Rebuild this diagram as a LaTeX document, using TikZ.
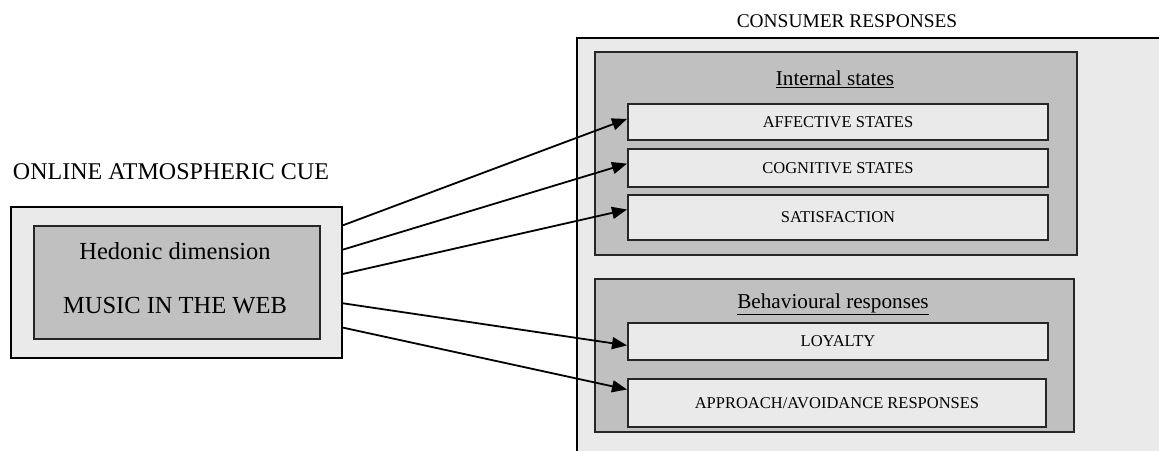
\documentclass[tikz,border=0pt]{standalone}
\usepackage{fontspec}
\setmainfont{Liberation Serif}
\usetikzlibrary{arrows.meta,calc}
\definecolor{lightbg}{RGB}{234,234,234}
\definecolor{darkbg}{RGB}{192,192,192}
\begin{document}
\begin{tikzpicture}[x=1pt,y=-1pt,
  lightbox/.style={draw=black,fill=lightbg,line width=2pt,inner sep=0pt,anchor=north west},
  darkbox/.style={draw=black!85,fill=darkbg,line width=2pt,inner sep=0pt,anchor=north west},
  itembox/.style={draw=black!85,fill=lightbg,line width=2pt,inner sep=0pt,anchor=north west,font=\fontsize{16.5}{18}\selectfont},
  conn/.style={line width=1.8pt,-{Triangle[length=15pt,width=12pt]}},
  lbl/.style={inner sep=0pt,anchor=center}]
\useasboundingbox (0,0) rectangle (1159,450);
\clip (0,0) rectangle (1159,450);
\fill[white] (0,0) rectangle (1159,450);
% left side
\node[lbl,font=\fontsize{24}{26}\selectfont] (cuetitle) at (171,172) {ONLINE ATMOSPHERIC CUE};
\node[lightbox,minimum width=331pt,minimum height=151pt] (cue) at (10,206) {};
\node[darkbox,minimum width=286pt,minimum height=113pt] (hed) at (33,225) {};
\node[lbl,font=\fontsize{24.5}{26}\selectfont] (hedt) at (175,251) {Hedonic dimension};
\node[lbl,font=\fontsize{24.5}{26}\selectfont] (music) at (175,306) {MUSIC IN THE WEB};
% right side
\node[lbl,font=\fontsize{19.4}{21}\selectfont] (crtitle) at (847,21) {CONSUMER RESPONSES};
\node[lightbox,minimum width=620pt,minimum height=440pt] (cr) at (576,37) {};
\node[darkbox,minimum width=482pt,minimum height=203pt] (internal) at (594,51) {};
\node[lbl,font=\fontsize{21.2}{23}\selectfont] (intt) at (835,79) {\underline{Internal states}};
\node[itembox,minimum width=420pt,minimum height=36pt] (aff) at (627,103) {};
\node[lbl,font=\fontsize{16.5}{18}\selectfont] at (aff.center) {AFFECTIVE STATES};
\node[itembox,minimum width=420pt,minimum height=38pt] (cog) at (627,148) {};
\node[lbl,font=\fontsize{16.5}{18}\selectfont] at (cog.center) {COGNITIVE STATES};
\node[itembox,minimum width=420pt,minimum height=45pt] (sat) at (627,194) {};
\node[lbl,font=\fontsize{16.5}{18}\selectfont] at (sat.center) {SATISFACTION};
\node[darkbox,minimum width=479pt,minimum height=153pt] (behav) at (594,278) {};
\node[lbl,font=\fontsize{21.2}{23}\selectfont] (behavt) at (833,304) {\underline{Behavioural responses}};
\node[itembox,minimum width=420pt,minimum height=37pt] (loy) at (627,322) {};
\node[lbl,font=\fontsize{16.5}{18}\selectfont] at (loy.center) {LOYALTY};
\node[itembox,minimum width=418pt,minimum height=48pt] (app) at (627,378) {};
\node[lbl,font=\fontsize{16.5}{18}\selectfont] at (app.center) {APPROACH/AVOIDANCE RESPONSES};
% connectors
\draw[conn] ($(cue.north east)!0.126!(cue.south east)$) -- ($(aff.north west)!0.42!(aff.south west)$);
\draw[conn] ($(cue.north east)!0.285!(cue.south east)$) -- ($(cog.north west)!0.39!(cog.south west)$);
\draw[conn] ($(cue.north east)!0.444!(cue.south east)$) -- ($(sat.north west)!0.33!(sat.south west)$);
\draw[conn] ($(cue.north east)!0.636!(cue.south east)$) -- ($(loy.north west)!0.6!(loy.south west)$);
\draw[conn] ($(cue.north east)!0.795!(cue.south east)$) -- ($(app.north west)!0.23!(app.south west)$);
\end{tikzpicture}
\end{document}
